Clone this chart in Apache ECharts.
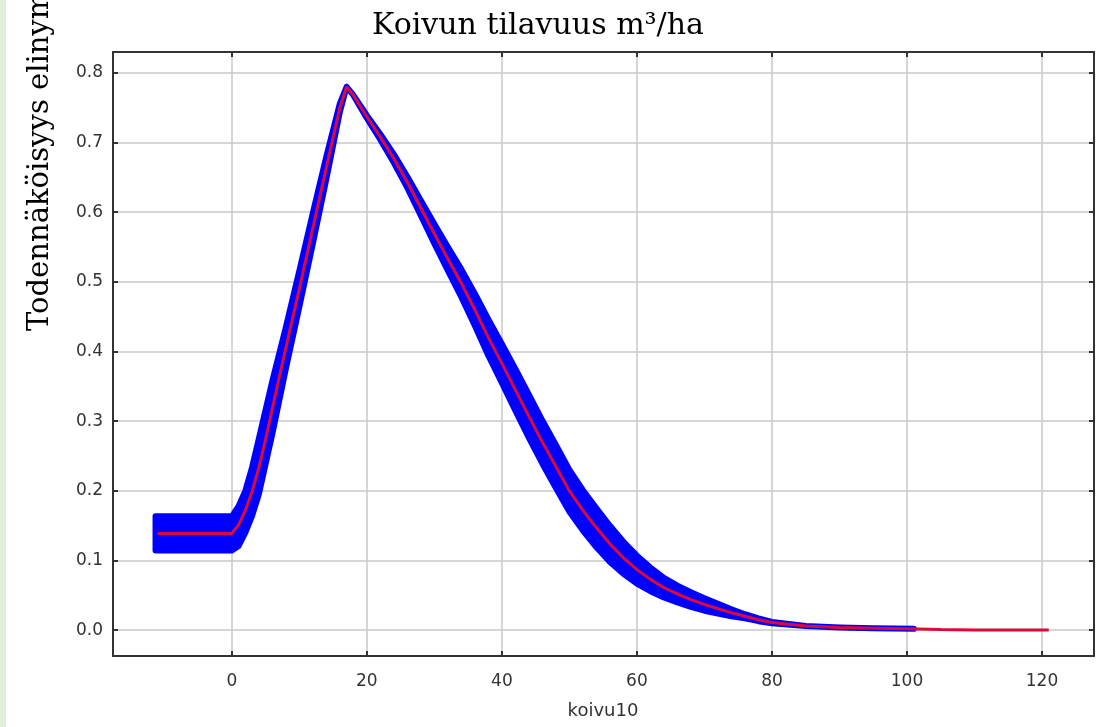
<!DOCTYPE html>
<html>
<head>
<meta charset="utf-8">
<script src="https://cdn.jsdelivr.net/npm/echarts@6/dist/echarts.min.js"></script>
<style>
html,body{margin:0;padding:0;background:#fff;}
#chart{width:1109px;height:727px;}
</style>
</head>
<body>
<div id="chart"></div>
<script>
// ---- data ----
const titleText = 'Koivun tilavuus m³/ha';
const yAxisName = 'Todennäköisyys elinympäristölle';
const xAxisName = 'koivu10';

const xValues = [-11, 0, 1, 2, 3, 4, 5, 6, 7, 8, 10, 12, 14, 16, 17, 18, 20, 22, 24, 26, 28, 30, 32, 34, 36, 38, 40, 42, 44, 46, 48, 50, 52, 54, 56, 58, 60, 62, 64, 66, 68, 70, 72, 74, 76, 78, 80, 85, 90, 95, 100, 105, 110, 115, 121];
const meanValues = [0.139, 0.139, 0.151, 0.172, 0.199, 0.233, 0.274, 0.318, 0.362, 0.405, 0.49, 0.577, 0.664, 0.75, 0.78, 0.768, 0.737, 0.708, 0.677, 0.643, 0.606, 0.569, 0.533, 0.498, 0.46, 0.42, 0.383, 0.345, 0.307, 0.27, 0.235, 0.2, 0.172, 0.147, 0.124, 0.104, 0.087, 0.073, 0.061, 0.052, 0.044, 0.037, 0.031, 0.025, 0.02, 0.015, 0.011, 0.006, 0.004, 0.003, 0.002, 0.001, 0.0005, 0.0003, 0.0002];

const bandX = [-11.3, 0, 1, 2, 3, 4, 6, 8, 10, 12, 14, 16, 17, 18, 20, 22, 24, 26, 28, 30, 32, 34, 36, 38, 40, 42, 44, 46, 48, 50, 52, 54, 56, 58, 60, 62, 64, 66, 68, 70, 72, 74, 76, 78, 80, 85, 90, 95, 101];
const bandLow = [0.1145, 0.1145, 0.121, 0.14, 0.164, 0.195, 0.282, 0.375, 0.464, 0.555, 0.648, 0.744, 0.78, 0.768, 0.735, 0.704, 0.671, 0.635, 0.595, 0.555, 0.516, 0.478, 0.437, 0.394, 0.355, 0.315, 0.276, 0.239, 0.204, 0.17, 0.143, 0.119, 0.098, 0.081, 0.067, 0.056, 0.047, 0.04, 0.0335, 0.028, 0.024, 0.02, 0.017, 0.013, 0.01, 0.006, 0.004, 0.003, 0.002];
const bandHigh = [0.1635, 0.1635, 0.178, 0.2, 0.234, 0.275, 0.358, 0.435, 0.516, 0.599, 0.68, 0.756, 0.78, 0.768, 0.739, 0.712, 0.683, 0.651, 0.617, 0.583, 0.55, 0.518, 0.483, 0.446, 0.411, 0.375, 0.338, 0.301, 0.266, 0.23, 0.201, 0.175, 0.15, 0.127, 0.107, 0.09, 0.075, 0.064, 0.0545, 0.046, 0.038, 0.03, 0.023, 0.017, 0.012, 0.006, 0.004, 0.003, 0.002];

const xTicks = [0, 20, 40, 60, 80, 100, 120];
const yTicks = [0.0, 0.1, 0.2, 0.3, 0.4, 0.5, 0.6, 0.7, 0.8];

// ---- build ----
const xMin = -17.6, xMax = 127.7, yMin = -0.037, yMax = 0.83;
const frame = '#333333';
const labelFont = {fontFamily: 'DejaVu Sans', fontSize: 17, color: '#333'};

const meanData = xValues.map((x, i) => [x, meanValues[i]]);

function xAxisDef(pos, showLabel) {
  return {
    type: 'value', position: pos, min: xMin, max: xMax,
    axisLine: {show: true, onZero: false, lineStyle: {color: frame, width: 2}},
    axisTick: {show: true, inside: true, length: 5, customValues: xTicks, lineStyle: {color: frame, width: 2}},
    splitLine: {show: showLabel, lineStyle: {color: '#c8c8c8', width: 1.5}},
    axisLabel: Object.assign({show: showLabel, margin: 17, customValues: xTicks,
      formatter: v => String(Math.round(v))}, labelFont)
  };
}
function yAxisDef(pos, showLabel) {
  return {
    type: 'value', position: pos, min: yMin, max: yMax,
    axisLine: {show: true, onZero: false, lineStyle: {color: frame, width: 2}},
    axisTick: {show: true, inside: true, length: 5, customValues: yTicks, lineStyle: {color: frame, width: 2}},
    splitLine: {show: showLabel, lineStyle: {color: '#c8c8c8', width: 1.5}},
    axisLabel: Object.assign({show: showLabel, margin: 10, customValues: yTicks,
      formatter: v => (Math.round(v * 10) / 10).toFixed(1)}, labelFont)
  };
}

const chart = echarts.init(document.getElementById('chart'), null, {renderer: 'canvas'});
chart.setOption({
  animation: false,
  backgroundColor: '#ffffff',
  grid: {left: 113, right: 15, top: 52, bottom: 71, containLabel: false},
  xAxis: [xAxisDef('bottom', true), xAxisDef('top', false)],
  yAxis: [yAxisDef('left', true), yAxisDef('right', false)],
  graphic: [
    {type: 'rect', left: 0, top: 0, shape: {width: 6, height: 727}, style: {fill: '#e2efda'}, z: -1},
    {type: 'text', x: 538, y: 26, style: {text: titleText, fontFamily: 'DejaVu Serif', fontSize: 30, fill: '#000', align: 'center', verticalAlign: 'middle'}},
    {type: 'text', x: 40, y: 331, rotation: Math.PI / 2, style: {text: yAxisName, fontFamily: 'DejaVu Serif', fontSize: 29, fill: '#000', align: 'left', verticalAlign: 'middle'}},
    {type: 'text', x: 603, y: 711, style: {text: xAxisName, fontFamily: 'DejaVu Sans', fontSize: 18, fill: '#333', align: 'center', verticalAlign: 'middle'}}
  ],
  series: [
    {
      type: 'custom', name: 'band', silent: true, z: 2,
      data: [0],
      renderItem: function (params, api) {
        const pts = [];
        for (let i = 0; i < bandX.length; i++) pts.push(api.coord([bandX[i], bandHigh[i]]));
        for (let i = bandX.length - 1; i >= 0; i--) pts.push(api.coord([bandX[i], bandLow[i]]));
        return {
          type: 'polygon',
          shape: {points: pts},
          style: {fill: '#0000ff', stroke: '#0000ff', lineWidth: 6, lineJoin: 'round'}
        };
      }
    },
    {type: 'line', name: 'mean', data: meanData, symbol: 'none', silent: true,
     lineStyle: {color: '#dc0a3c', width: 3}, z: 3}
  ]
});
</script>
</body>
</html>
